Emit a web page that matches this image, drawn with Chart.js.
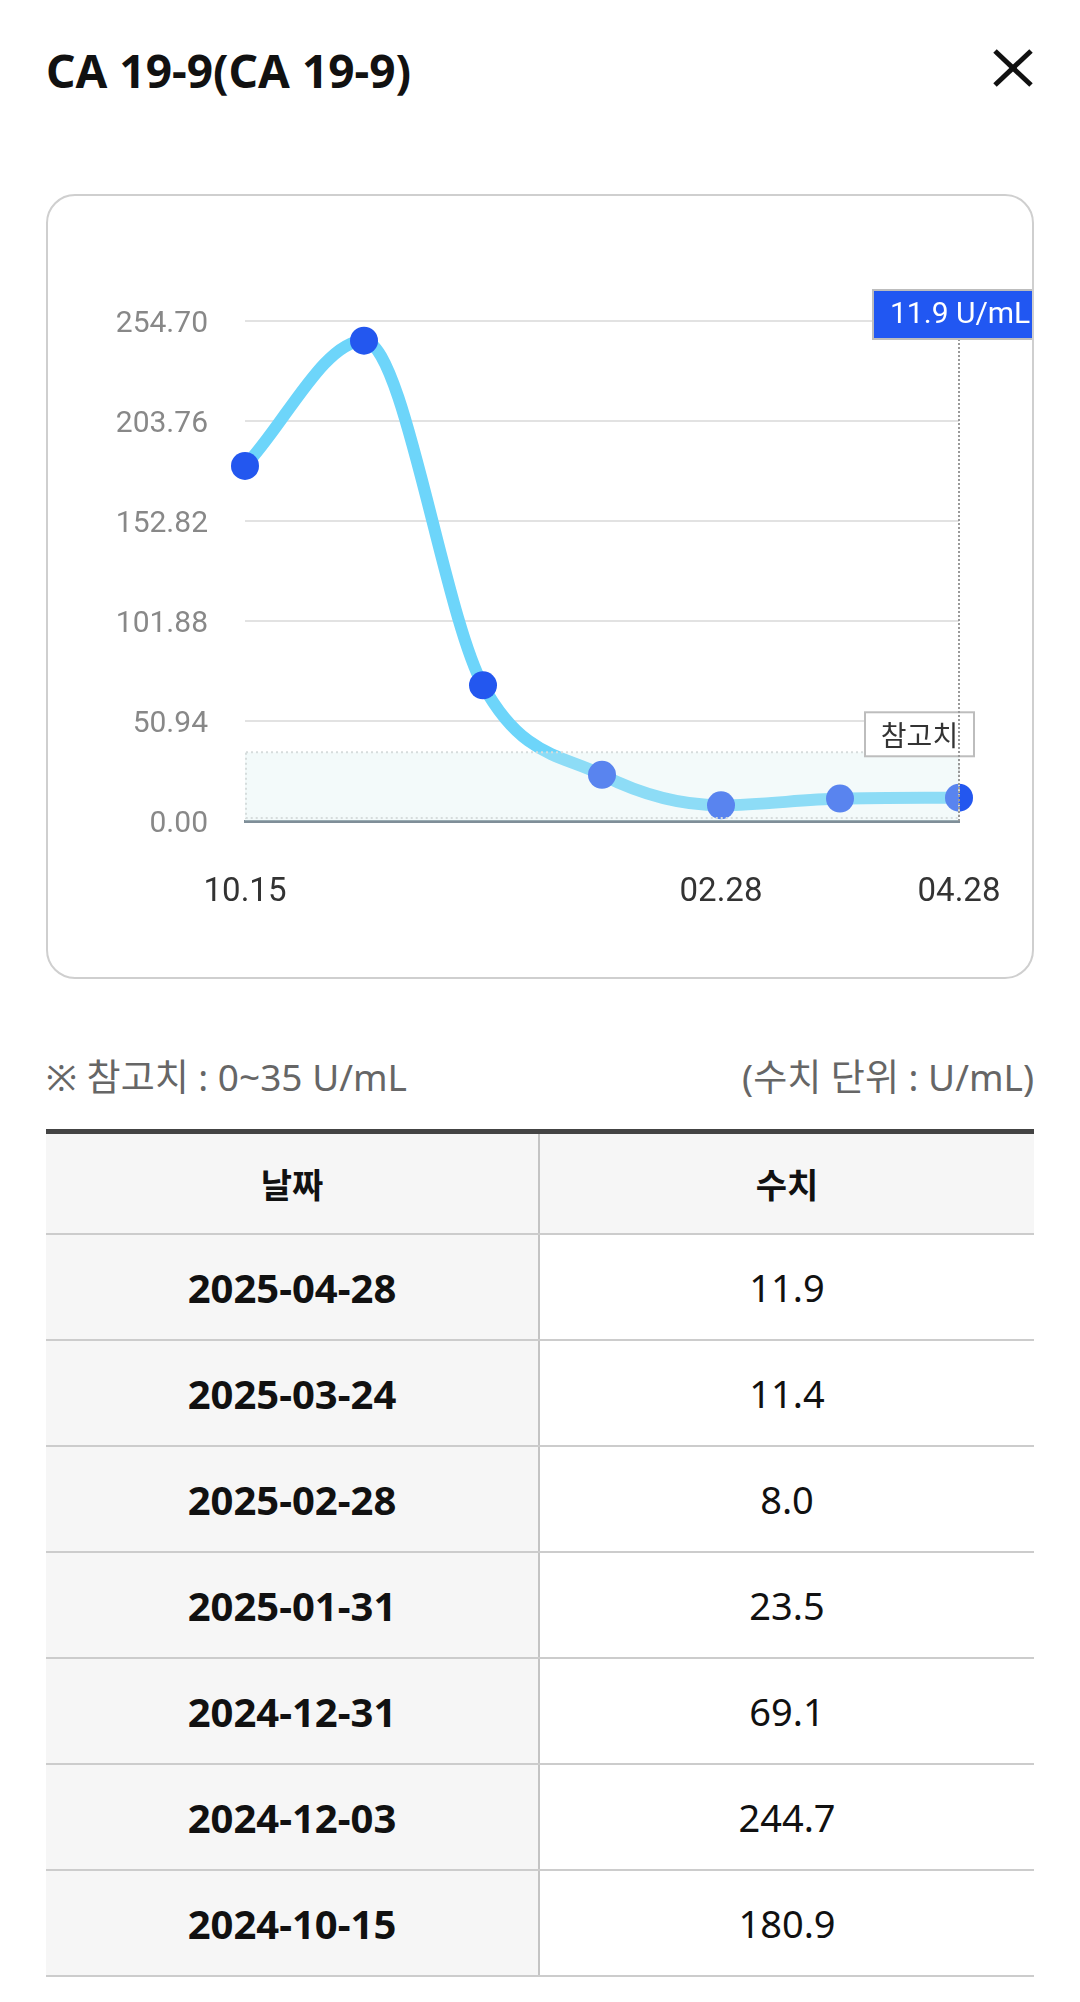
<!DOCTYPE html>
<html lang="ko">
<head>
<meta charset="utf-8">
<script src="https://cdn.jsdelivr.net/npm/chart.js@4.4.1/dist/chart.umd.min.js"></script>
<style>
  html, body { margin: 0; padding: 0; background: #fff; }
  body { width: 1080px; height: 2002px; position: relative; font-family: "Noto Sans", "Noto Sans CJK KR", sans-serif; color: #111; }
  #title { position: absolute; left: 46px; top: 40px; line-height: 60px; font-size: 46px; font-weight: 700; }
  #close { position: absolute; left: 993px; top: 49px; }
  #card { position: absolute; left: 46px; top: 194px; width: 988px; height: 785px; box-sizing: border-box;
          border: 2px solid #cfcfcf; border-radius: 29px; overflow: hidden; }
  #card canvas { display: block; }
  .note { position: absolute; top: 1052px; line-height: 50px; font-size: 37px; color: #666; }
  #noteL { left: 46px; }
  #noteR { right: 46px; }
  #table { position: absolute; left: 46px; top: 1129px; width: 988px; border-top: 5px solid #444; }
  .row { display: flex; height: 106px; box-sizing: border-box; border-bottom: 2px solid #cccccc; }
  .row.head { height: 101px; }
  .cell { display: flex; align-items: center; justify-content: center; }
  .c1 { width: 494px; box-sizing: border-box; border-right: 2px solid #c4c4c4; background: #f6f6f6; font-weight: 700; font-size: 40px; }
  .c2 { flex: 1; font-size: 38px; }
  .head .c1, .head .c2 { font-family: "Noto Sans CJK KR", sans-serif; font-size: 34px; font-weight: 700; background: #f6f6f6; }
</style>
</head>
<body>
<div id="title">CA 19-9(CA 19-9)</div>
<svg id="close" width="40" height="38" viewBox="0 0 40 38">
  <line x1="2" y1="2" x2="38" y2="36" stroke="#111" stroke-width="5"/>
  <line x1="38" y1="2" x2="2" y2="36" stroke="#111" stroke-width="5"/>
</svg>
<div id="card"><canvas id="graf" width="984" height="781"></canvas></div>
<div class="note" id="noteL">※ 참고치 : 0~35 U/mL</div>
<div class="note" id="noteR">(수치 단위 : U/mL)</div>
<div id="table"></div>

<script>
// dados do exame (mais antigo -> mais recente)
const datas = ['2024-10-15', '2024-12-03', '2024-12-31', '2025-01-31', '2025-02-28', '2025-03-24', '2025-04-28'];
const valores = [180.9, 244.7, 69.1, 23.5, 8.0, 11.4, 11.9];
const ticksX = ['10.15', '02.28', '04.28'];
const ticksY = [0, 50.94, 101.88, 152.82, 203.76, 254.70];
const refFaixa = [0, 35];
const unidade = 'U/mL';

const labels = datas.map(d => d.slice(5).replace('-', '.'));

// tabela, mais recente primeiro
const tabela = document.getElementById('table');
let html = '<div class="row head"><div class="cell c1">날짜</div><div class="cell c2">수치</div></div>';
for (let i = datas.length - 1; i >= 0; i--) {
    html += '<div class="row"><div class="cell c1">' + datas[i] + '</div><div class="cell c2">' + valores[i].toFixed(1) + '</div></div>';
}
tabela.innerHTML = html;

const faixaPlugin = {
    id: 'faixa',
    afterDatasetsDraw(chart) {
        const ctx = chart.ctx, a = chart.chartArea, x = chart.scales.x, y = chart.scales.y;
        const topo = y.getPixelForValue(refFaixa[1]);
        const base = y.getPixelForValue(refFaixa[0]);
        const xr = x.getPixelForValue(valores.length - 1);
        ctx.save();
        ctx.fillStyle = 'rgba(215,238,238,0.3)';
        ctx.fillRect(a.left, topo, xr - a.left, base - topo);
        ctx.strokeStyle = '#d6dcdc';
        ctx.lineWidth = 2;
        ctx.setLineDash([2, 3]);
        ctx.strokeRect(a.left + 1, topo, xr - a.left - 1, base - topo - 3);
        ctx.restore();
    },
    afterDraw(chart) {
        const ctx = chart.ctx, a = chart.chartArea, x = chart.scales.x, y = chart.scales.y;
        const topo = y.getPixelForValue(refFaixa[1]);
        const base = y.getPixelForValue(refFaixa[0]);
        const xr = x.getPixelForValue(valores.length - 1);
        ctx.save();
        // caixa "참고치"
        const bw = 109, bh = 44;
        const bx = xr + 15 - bw, by = topo + 4 - bh;
        ctx.fillStyle = '#fff';
        ctx.fillRect(bx, by, bw, bh);
        ctx.strokeStyle = '#bdbdbd';
        ctx.lineWidth = 2;
        ctx.strokeRect(bx, by, bw, bh);
        ctx.fillStyle = '#333';
        ctx.font = '28px "Noto Sans CJK KR"';
        ctx.textAlign = 'center';
        ctx.textBaseline = 'middle';
        ctx.fillText('참고치', bx + bw / 2, by + bh / 2 + 1);

        // linha pontilhada vertical
        const tTop = a.top - 31, tH = 49;
        ctx.strokeStyle = '#999';
        ctx.setLineDash([2, 2]);
        ctx.beginPath();
        ctx.moveTo(xr, tTop + tH);
        ctx.lineTo(xr, base);
        ctx.stroke();
        ctx.setLineDash([]);

        // caixa do ultimo valor
        const tW = 172, tLeft = xr - 86;
        ctx.fillStyle = '#2157f2';
        ctx.fillRect(tLeft, tTop, tW, tH);
        ctx.strokeStyle = '#bdbdbd';
        ctx.strokeRect(tLeft, tTop, tW, tH);
        ctx.fillStyle = '#fff';
        ctx.font = '30px Roboto';
        ctx.textAlign = 'left';
        ctx.fillText(valores[valores.length - 1] + ' ' + unidade, tLeft + 17, tTop + tH / 2 + 1);
        ctx.restore();
    }
};

const ctx = document.getElementById('graf');
const grafico = new Chart(ctx, {
    type: 'line',
    data: {
        labels: labels,
        datasets: [{
            data: valores,
            borderColor: '#6dd5fa',
            borderWidth: 12,
            cubicInterpolationMode: 'monotone',
            fill: false,
            pointRadius: 14,
            pointHoverRadius: 14,
            pointBorderWidth: 0,
            pointBackgroundColor: '#2357ef',
            clip: false
        }]
    },
    options: {
        responsive: false,
        animation: false,
        events: [],
        layout: { padding: { top: 125, right: 73, left: 0, bottom: 0 } },
        plugins: { legend: { display: false }, tooltip: { enabled: false } },
        scales: {
            x: {
                type: 'category',
                offset: false,
                grid: { display: false },
                border: { display: true, color: '#7f8e98', width: 3 },
                afterFit(s) { s.height = 156; s.paddingRight = 0; s.paddingLeft = 0; },
                ticks: {
                    autoSkip: false,
                    maxRotation: 0,
                    padding: 44,
                    color: '#333',
                    font: { family: 'Roboto', size: 33 },
                    callback: function (v, i) { return ticksX.includes(labels[i]) ? labels[i] : ''; }
                }
            },
            y: {
                min: 0,
                max: ticksY[ticksY.length - 1],
                afterFit(s) { s.width = 197; s.paddingTop = 0; s.paddingBottom = 0; },
                afterBuildTicks(s) { s.ticks = ticksY.map(v => ({ value: v })); },
                grid: { color: '#e2e2e2', lineWidth: 2, drawTicks: false },
                border: { display: false },
                ticks: {
                    padding: 37,
                    labelOffset: 3,
                    color: '#888',
                    font: { family: 'Roboto', size: 30 },
                    callback: v => Number(v).toFixed(2)
                }
            }
        }
    },
    plugins: [faixaPlugin]
});
</script>
</body>
</html>
